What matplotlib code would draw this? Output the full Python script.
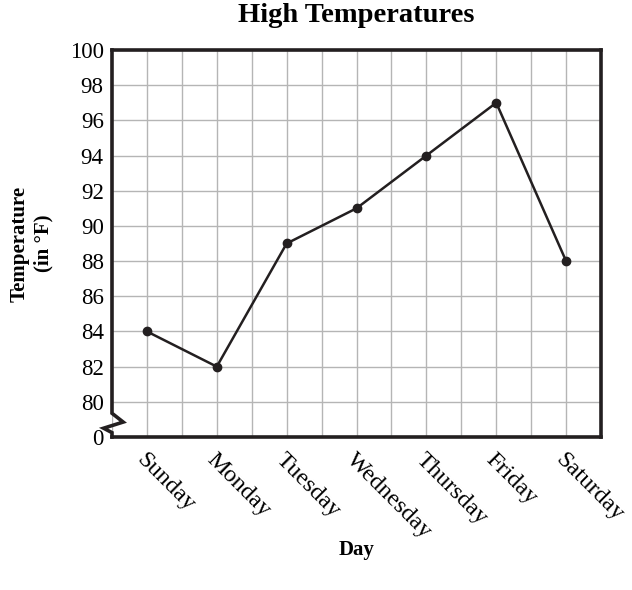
import matplotlib.pyplot as plt
import numpy as np

# data
days = ["Sunday", "Monday", "Tuesday", "Wednesday", "Thursday", "Friday", "Saturday"]
temps = [84, 82, 89, 91, 94, 97, 88]
y_ticks = [78, 80, 82, 84, 86, 88, 90, 92, 94, 96, 98, 100]
y_labels = ["0", "80", "82", "84", "86", "88", "90", "92", "94", "96", "98", "100"]

plt.rcParams['font.family'] = ['Liberation Serif', 'DejaVu Serif']

fig = plt.figure(figsize=(6.32, 5.90), dpi=100)
ax = fig.add_axes([0.1772, 0.2593, 0.951 - 0.1772, 0.9153 - 0.2593])

x = np.arange(len(days))
ax.plot(x, temps, color="#231f20", lw=1.8, marker="o", ms=6, zorder=3)

ax.set_xlim(-0.5, len(days) - 0.5)
ax.set_ylim(78, 100)

# grid: every half day across, every 2 degrees up
ax.set_xticks(x)
ax.set_xticks(np.arange(-0.5, len(days), 1.0), minor=True)
ax.set_yticks(y_ticks)
ax.set_yticklabels(y_labels)
ax.grid(True, which="both", axis="x", color="#b5b5b5", lw=1.0)
ax.grid(True, which="major", axis="y", color="#b5b5b5", lw=1.0)
ax.tick_params(which="both", length=0)
ax.tick_params(axis="y", labelsize=16.5, pad=6)
ax.tick_params(axis="x", labelsize=17.5, pad=9)
ax.set_xticklabels(days, rotation=-45, ha="left", va="top", rotation_mode="anchor")

for side in ["top", "right", "bottom"]:
    ax.spines[side].set_linewidth(2.6)
    ax.spines[side].set_color("#231f20")
ax.spines["left"].set_visible(False)

# left spine with axis break zigzag
bx = [-0.5, -0.5, -0.34, -0.62, -0.5, -0.5]
by = [100, 79.35, 78.85, 78.5, 78.25, 78]
ax.plot(bx, by, color="#231f20", lw=2.6, clip_on=False, zorder=4,
        solid_joinstyle="miter", solid_capstyle="projecting")

ax.set_title("High Temperatures", fontsize=20.5, fontweight="bold", pad=20)
ax.set_xlabel("Day", fontsize=15, fontweight="bold")
ax.xaxis.set_label_coords(0.5, -0.266)
ax.set_ylabel("Temperature\n(in °F)", fontsize=15, fontweight="bold", labelpad=12)

plt.savefig("out.png", dpi=100)
